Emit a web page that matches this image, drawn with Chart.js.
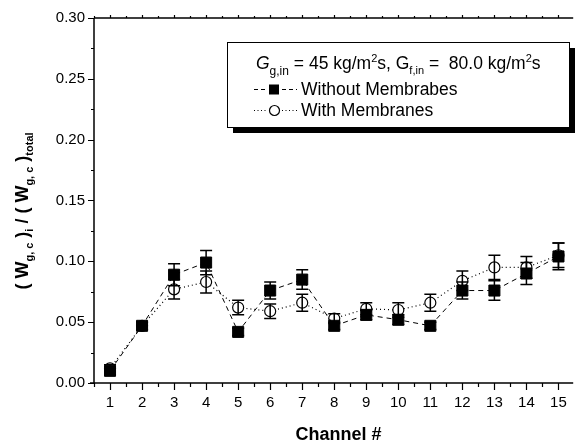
<!DOCTYPE html>
<html lang="en">
<head>
  <meta charset="UTF-8">
  <title>Channel distribution</title>
  <script src="https://cdn.jsdelivr.net/npm/chart.js"></script>
  <style>
    body {
      margin: 0;
      padding: 0;
      background-color: #fff;
    }

    #wrap {
      width: 582px;
      height: 445px;
    }
  </style>
</head>
<body>
  <div id="wrap">
    <canvas id="flowChart" width="582" height="445"></canvas>
  </div>

  <script>
    // channel numbers and measured fractions
    const channels = [1, 2, 3, 4, 5, 6, 7, 8, 9, 10, 11, 12, 13, 14, 15];
    const withoutMembranes = [0.010, 0.047, 0.089, 0.099, 0.042, 0.076, 0.085, 0.047, 0.056, 0.052, 0.047, 0.076, 0.076, 0.090, 0.104];
    const withoutErr = [0.003, 0.003, 0.009, 0.010, 0.003, 0.007, 0.008, 0.003, 0.004, 0.004, 0.003, 0.007, 0.008, 0.009, 0.011];
    const withMembranes = [0.012, 0.047, 0.077, 0.083, 0.062, 0.059, 0.066, 0.053, 0.061, 0.060, 0.066, 0.084, 0.095, 0.095, 0.105];
    const withErr = [0.003, 0.003, 0.008, 0.009, 0.006, 0.006, 0.007, 0.004, 0.005, 0.006, 0.007, 0.008, 0.010, 0.009, 0.010];
    const yTicks = [0.00, 0.05, 0.10, 0.15, 0.20, 0.25, 0.30];

    const FONT = 'Arial, "Liberation Sans", sans-serif';

    // draws a run of text pieces (sub/superscripts) starting at x
    function richWidth(ctx, parts) {
      let w = 0;
      parts.forEach(p => { ctx.font = p.font; w += ctx.measureText(p.t).width; });
      return w;
    }

    function drawRich(ctx, x, y, parts) {
      let cx = x;
      parts.forEach(p => {
        ctx.font = p.font;
        ctx.fillText(p.t, cx, y + (p.dy || 0));
        cx += ctx.measureText(p.t).width;
      });
    }

    const errorBars = {
      id: 'errorBars',
      afterDatasetsDraw(chart) {
        const ctx = chart.ctx;
        const x = chart.scales.x, y = chart.scales.y;
        const sets = [[withMembranes, withErr], [withoutMembranes, withoutErr]];
        ctx.save();
        ctx.strokeStyle = '#000';
        ctx.lineWidth = 1.5;
        sets.forEach(([vals, errs]) => {
          vals.forEach((v, i) => {
            const px = x.getPixelForValue(channels[i]);
            const top = y.getPixelForValue(v + errs[i]);
            const bot = y.getPixelForValue(v - errs[i]);
            ctx.beginPath();
            ctx.moveTo(px, top); ctx.lineTo(px, bot);
            ctx.moveTo(px - 6, top); ctx.lineTo(px + 6, top);
            ctx.moveTo(px - 6, bot); ctx.lineTo(px + 6, bot);
            ctx.stroke();
          });
        });
        ctx.restore();
      }
    };

    const frameAndText = {
      id: 'frameAndText',
      afterDraw(chart) {
        const ctx = chart.ctx;
        const a = chart.chartArea;
        const x = chart.scales.x, y = chart.scales.y;
        ctx.save();
        ctx.strokeStyle = '#000';
        ctx.fillStyle = '#000';
        ctx.lineWidth = 1.5;

        // axis lines
        ctx.beginPath();
        ctx.moveTo(a.left, a.top); ctx.lineTo(a.left, a.bottom);
        ctx.moveTo(a.left - 4, a.bottom); ctx.lineTo(a.right, a.bottom);
        ctx.moveTo(a.left, a.top); ctx.lineTo(a.right, a.top);
        ctx.stroke();

        // x ticks, major on integers and minor on halves
        ctx.lineWidth = 1.2;
        ctx.beginPath();
        for (let c = 0.5; c <= 15.5; c += 0.5) {
          const px = Math.round(x.getPixelForValue(c)) + 0.5;
          if (px > a.right) continue;
          const major = Number.isInteger(c);
          ctx.moveTo(px, a.bottom); ctx.lineTo(px, a.bottom + (major ? 7 : 4));
          ctx.moveTo(px, a.top); ctx.lineTo(px, a.top - (major ? 3 : 2));
        }
        // y ticks
        for (let k = 0; k <= 12; k++) {
          const py = Math.round(y.getPixelForValue(k * 0.025)) + 0.5;
          const major = k % 2 === 0;
          ctx.moveTo(a.left, py); ctx.lineTo(a.left - (major ? 6 : 3), py);
        }
        ctx.stroke();

        // x title
        ctx.font = 'bold 18px ' + FONT;
        ctx.textAlign = 'center';
        ctx.textBaseline = 'alphabetic';
        ctx.fillText('Channel #', (a.left + 583) / 2, 440);

        // y title, rotated
        ctx.textAlign = 'left';
        const big = 'bold 18px ' + FONT;
        const sub = 'bold 11px ' + FONT;
        const yParts = [
          { t: '( ', font: big }, { t: 'W', font: big }, { t: 'g, c', font: sub, dy: 5 },
          { t: ' )', font: big }, { t: 'i', font: sub, dy: 5 }, { t: ' / ( ', font: big },
          { t: 'W', font: big }, { t: 'g, c', font: sub, dy: 5 }, { t: ' )', font: big },
          { t: 'total', font: sub, dy: 5 }
        ];
        ctx.save();
        ctx.translate(28, 211);
        ctx.rotate(-Math.PI / 2);
        drawRich(ctx, -richWidth(ctx, yParts) / 2, 0, yParts);
        ctx.restore();

        // legend box with drop shadow
        const lx = 227, ly = 42, lw = 342, lh = 85;
        ctx.fillRect(lx + 6, ly + 6, lw, lh);
        ctx.fillStyle = '#fff';
        ctx.fillRect(lx, ly, lw, lh);
        ctx.lineWidth = 1;
        ctx.strokeRect(lx + 0.5, ly + 0.5, lw, lh);
        ctx.fillStyle = '#000';

        const norm = '17.5px ' + FONT;
        const small = '12px ' + FONT;
        const tiny = '11px ' + FONT;
        const header = [
          { t: 'G', font: 'italic 17.5px ' + FONT }, { t: 'g,in', font: small, dy: 6 },
          { t: ' = 45 kg/m', font: norm }, { t: '2', font: tiny, dy: -7 },
          { t: 's, G', font: norm }, { t: 'f,in', font: tiny, dy: 5 },
          { t: ' =  80.0 kg/m', font: norm }, { t: '2', font: tiny, dy: -7 },
          { t: 's', font: norm }
        ];
        drawRich(ctx, 256, 69, header);

        // legend samples
        ctx.lineWidth = 1;
        ctx.setLineDash([4, 3]);
        ctx.beginPath();
        ctx.moveTo(254, 89.5); ctx.lineTo(297, 89.5);
        ctx.stroke();
        ctx.setLineDash([1, 2.5]);
        ctx.beginPath();
        ctx.moveTo(254, 110.5); ctx.lineTo(297, 110.5);
        ctx.stroke();
        ctx.setLineDash([]);
        ctx.fillStyle = '#fff';
        ctx.fillRect(267, 82, 14, 15);
        ctx.fillRect(267, 103, 14, 15);
        ctx.fillStyle = '#000';
        ctx.fillRect(269, 84.5, 10, 10);
        ctx.beginPath();
        ctx.arc(274.5, 110.5, 5, 0, Math.PI * 2);
        ctx.fillStyle = '#fff';
        ctx.fill();
        ctx.lineWidth = 1.2;
        ctx.stroke();
        ctx.fillStyle = '#000';
        ctx.font = norm;
        ctx.fillText('Without Membrabes', 301, 95);
        ctx.fillText('With Membranes', 301, 116);

        ctx.restore();
      }
    };

    const ctx = document.getElementById('flowChart').getContext('2d');
    new Chart(ctx, {
      type: 'line',
      data: {
        datasets: [
          {
            label: 'Without Membrabes',
            data: channels.map((c, i) => ({ x: c, y: withoutMembranes[i] })),
            borderColor: '#000',
            borderWidth: 1,
            borderDash: [5, 4],
            pointStyle: 'rect',
            pointRadius: 7.8,
            pointBackgroundColor: '#000',
            pointBorderColor: '#000',
            pointBorderWidth: 1,
            tension: 0
          },
          {
            label: 'With Membranes',
            data: channels.map((c, i) => ({ x: c, y: withMembranes[i] })),
            borderColor: '#000',
            borderWidth: 1.2,
            borderDash: [1, 3],
            pointStyle: 'circle',
            pointRadius: 5.5,
            pointBackgroundColor: '#fff',
            pointBorderColor: '#000',
            pointBorderWidth: 1.2,
            tension: 0
          }
        ]
      },
      options: {
        responsive: false,
        animation: false,
        devicePixelRatio: 1,
        clip: false,
        layout: { padding: { top: 16, right: 0, left: 0, bottom: 0 } },
        plugins: { legend: { display: false }, tooltip: { enabled: false } },
        scales: {
          x: {
            type: 'linear',
            min: 0.5,
            max: 15.46,
            afterFit: s => { s.height = 62; },
            afterBuildTicks: s => { s.ticks = channels.map(v => ({ value: v })); },
            grid: { display: false, drawTicks: false },
            border: { display: false },
            ticks: { color: '#000', font: { family: FONT, size: 15 }, padding: 11, maxRotation: 0, autoSkip: false }
          },
          y: {
            min: 0,
            max: 0.30,
            afterFit: s => { s.width = 94; },
            afterBuildTicks: s => { s.ticks = yTicks.map(v => ({ value: v })); },
            grid: { display: false, drawTicks: false },
            border: { display: false },
            ticks: { color: '#000', font: { family: FONT, size: 15 }, padding: 9, callback: v => v.toFixed(2) }
          }
        }
      },
      plugins: [errorBars, frameAndText]
    });
  </script>
</body>
</html>
